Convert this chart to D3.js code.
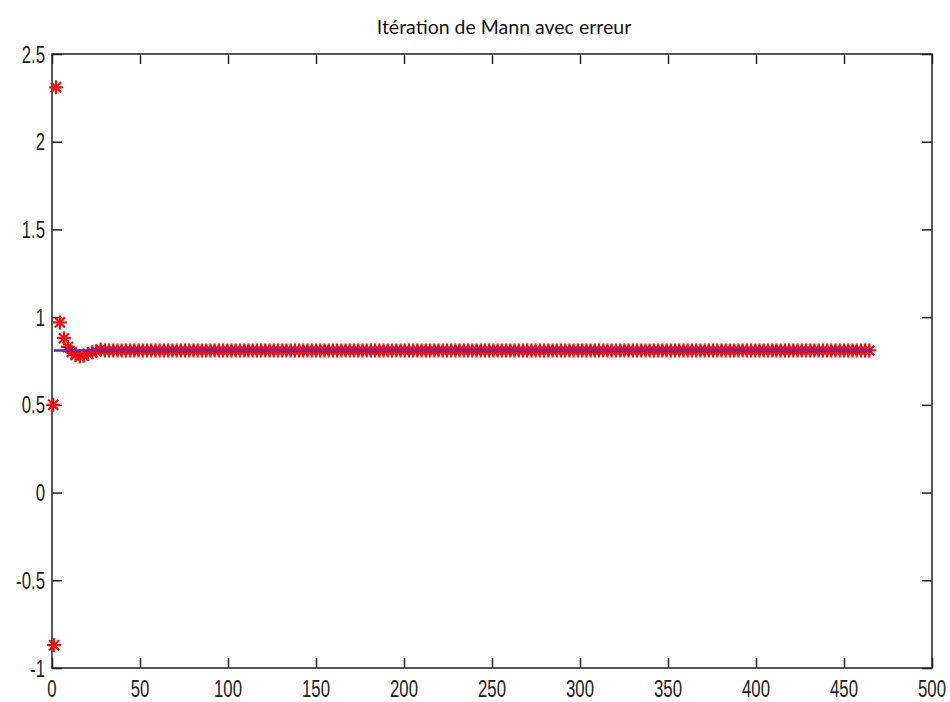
<!DOCTYPE html>
<html><head><meta charset="utf-8">
<script src="https://cdn.jsdelivr.net/npm/d3@7"></script>
<style>body{margin:0;background:#fff}svg{display:block}</style>
</head><body>
<svg id="c" width="950" height="702"></svg>
<script>
// ---- data ----
const titleText = "Itération de Mann avec erreur";
const xTicks = [0,50,100,150,200,250,300,350,400,450,500];
const yTicks = [-1,-0.5,0,0.5,1,1.5,2,2.5];
const yTickLabels = ["-1","-0.5","0","0.5","1","1.5","2","2.5"];
// early red iterates (x, value)
const redEarlyX = [0.7, 1.2, 2.3, 4.5, 6.8, 9.0, 11.2, 13.4, 15.8, 18.0, 20.4, 22.8, 25.2, 27.6, 30.0];
const redEarlyY = [0.50, -0.87, 2.31, 0.97, 0.88, 0.83, 0.80, 0.785, 0.775, 0.78, 0.79, 0.80, 0.805, 0.815, 0.81];
// plateau: red markers every ~2.4 iterations from 32.4 to 466 at the fixed point
const plateauStart = 32.4, plateauEnd = 466, plateauStep = 2.4, plateauValue = 0.81;
// blue reference line (fixed point)
const blueX = [1, 466];
const blueY = [0.81, 0.81];

// ---- layout ----
const L = 52, R = 932, T = 54, B = 668;
const svg = d3.select("#c");
const x = d3.scaleLinear().domain([0,500]).range([L,R]);
const y = d3.scaleLinear().domain([-1,2.5]).range([B,T]);

const redPts = redEarlyX.map((v,i)=>[v, redEarlyY[i]]);
d3.range(plateauStart, plateauEnd + 0.01, plateauStep).forEach(v => redPts.push([v, plateauValue]));

// axes lines/ticks
const tickLen = 10;
const axisColor = "#222";
const fr = svg.append("g");
fr.append("rect").attr("x",L).attr("y",T).attr("width",R-L).attr("height",B-T)
  .attr("fill","none").attr("stroke",axisColor).attr("stroke-width",1.5);

const xb = svg.append("g").attr("transform",`translate(0,${B})`)
  .call(d3.axisBottom(x).tickValues(xTicks).tickSize(-tickLen).tickFormat(""));
const xt = svg.append("g").attr("transform",`translate(0,${T})`)
  .call(d3.axisTop(x).tickValues(xTicks).tickSize(-tickLen).tickFormat(""));
const yl = svg.append("g").attr("transform",`translate(${L},0)`)
  .call(d3.axisLeft(y).tickValues(yTicks).tickSize(-tickLen).tickFormat(""));
const yr = svg.append("g").attr("transform",`translate(${R},0)`)
  .call(d3.axisRight(y).tickValues(yTicks).tickSize(-tickLen).tickFormat(""));
[xb,xt,yl,yr].forEach(g=>{
  g.select(".domain").remove();
  g.selectAll("line").attr("stroke",axisColor).attr("stroke-width",1.5);
});

// tick labels (condensed)
const fs = 24, sx = 0.7;
const labelFont = "'Liberation Sans', Arial, sans-serif";
svg.append("g").selectAll("text").data(xTicks).join("text")
  .attr("transform", d=>`translate(${x(d)},${B+29}) scale(${sx},1)`)
  .attr("text-anchor","middle").attr("font-family",labelFont).attr("font-size",fs)
  .attr("fill","#222").text(d=>String(d));
svg.append("g").selectAll("text").data(yTicks).join("text")
  .attr("transform", d=>`translate(${L-7},${y(d)+8.5}) scale(${sx},1)`)
  .attr("text-anchor","end").attr("font-family",labelFont).attr("font-size",fs)
  .attr("fill","#222").text((d,i)=>yTickLabels[i]);

// title
svg.append("text").attr("x",504).attr("y",34).attr("text-anchor","middle")
  .attr("font-family","Lato, 'Open Sans', sans-serif").attr("font-size",19.5)
  .attr("fill","#111").text(titleText);

// red asterisk markers
const line = d3.line().x(d=>x(d[0])).y(d=>y(d[1]));
const r = 7, rd = r*0.72;
const star = `M${-r},0L${r},0M0,${-r}L0,${r}M${-rd},${-rd}L${rd},${rd}M${-rd},${rd}L${rd},${-rd}`;
svg.append("g").selectAll("path").data(redPts).join("path")
  .attr("transform", d=>`translate(${x(d[0])},${y(d[1])})`)
  .attr("d", star).attr("fill","none").attr("stroke","#ee1111").attr("stroke-width",2.2);
// blue line on top
svg.append("path").datum(blueX.map((v,i)=>[v,blueY[i]]))
  .attr("d", line).attr("fill","none").attr("stroke","#6a22b0").attr("stroke-width",2.5);
</script>
</body></html>
